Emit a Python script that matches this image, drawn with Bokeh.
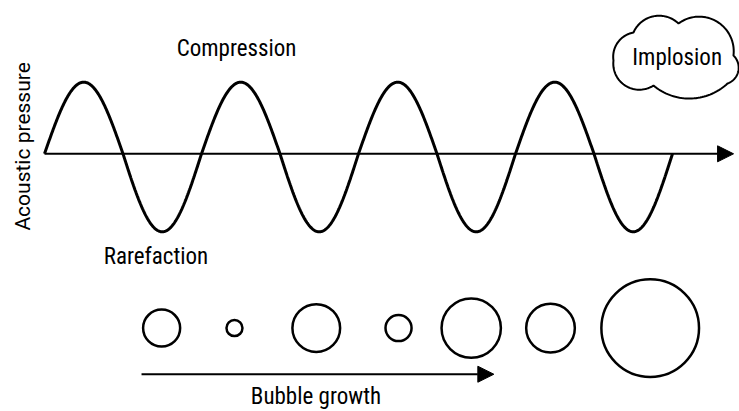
import numpy as np
from bokeh.plotting import figure
from bokeh.models import Range1d, Arrow, NormalHead, Label
from bokeh.embed import file_html
from bokeh.resources import INLINE

# ---------------- data (time in wave periods, pressure in amplitude units) ----------------
n_periods = 4
compression_peak = 0.955
rarefaction_trough = -1.04
pressure_axis_end = 4.389

bubble_time = [0.746, 1.210, 1.731, 2.255, 2.718, 3.223, 3.858]
bubble_radius = [0.118, 0.051, 0.152, 0.083, 0.189, 0.155, 0.311]
bubble_level = -2.324

growth_arrow_time = [0.618, 2.862]
growth_arrow_level = -2.939

label_text = ["Compression", "Rarefaction", "Bubble growth", "Implosion"]
label_time = [1.223, 0.710, 1.729, 4.030]
label_level = [1.404, -1.373, -3.236, 1.284]

ylabel_text = "Acoustic pressure"
ylabel_time = -0.137
ylabel_level = 0.099

# cloud outline around "Implosion": notch directions (px offsets) and lobe bulges (px)
cloud_center = (4.019, 1.297)
cloud_notch_dx = [-62, -42, 3, 58, 52, -22]
cloud_notch_dy = [4, -24, -33, -1, 27, 29]
cloud_lobe_bulge = [7, 12, 21, 8, 14, 15]

# ---------------- figure ----------------
x_start, x_end = -0.2803, 4.4268
y_start, y_end = -3.436, 2.044
W, H = 739, 411
px_per_t = W / (x_end - x_start)
px_per_p = H / (y_end - y_start)

p = figure(width=W, height=H, x_range=Range1d(x_start, x_end), y_range=Range1d(y_start, y_end),
           x_axis_location=None, y_axis_location=None, toolbar_location=None,
           output_backend="svg", min_border=0, outline_line_color=None,
           background_fill_color="white", border_fill_color="white")
p.grid.visible = False

# wave
t = np.linspace(0, n_periods, 1200)
s = np.sin(2 * np.pi * t)
wave = np.where(s > 0, s * compression_peak, s * (-rarefaction_trough))
p.line(t, wave, line_color="black", line_width=3)

# pressure axis arrow
p.add_layout(Arrow(x_start=0, y_start=0, x_end=pressure_axis_end, y_end=0,
                   line_color="black", line_width=2,
                   end=NormalHead(size=16, fill_color="black", line_color="black", line_width=1)))

# bubbles
p.circle(bubble_time, [bubble_level] * len(bubble_time), radius=bubble_radius,
         radius_dimension="x", fill_color=None, line_color="black", line_width=2.5)

# bubble growth arrow
p.add_layout(Arrow(x_start=growth_arrow_time[0], y_start=growth_arrow_level,
                   x_end=growth_arrow_time[1], y_end=growth_arrow_level,
                   line_color="black", line_width=2,
                   end=NormalHead(size=16, fill_color="black", line_color="black", line_width=1)))

# cloud
def cloud_outline():
    xs, ys = [], []
    n = len(cloud_notch_dx)
    for i in range(n):
        p0 = np.array([cloud_notch_dx[i], cloud_notch_dy[i]], float)
        p1 = np.array([cloud_notch_dx[(i + 1) % n], cloud_notch_dy[(i + 1) % n]], float)
        sag = cloud_lobe_bulge[i]
        m = (p0 + p1) / 2
        d = p1 - p0
        c = np.linalg.norm(d)
        nrm = np.array([d[1], -d[0]]) / c
        if np.dot(nrm, m) < 0:
            nrm = -nrm
        h = c / 2
        R = (h * h + sag * sag) / (2 * sag)
        O = m - nrm * (R - sag)
        theta = np.arctan2(h, R - sag)
        am = np.arctan2(nrm[1], nrm[0])
        phi = np.linspace(-theta, theta, 40)
        px = O[0] + R * np.cos(am + phi)
        py = O[1] + R * np.sin(am + phi)
        if np.hypot(px[0] - p0[0], py[0] - p0[1]) > np.hypot(px[-1] - p0[0], py[-1] - p0[1]):
            px, py = px[::-1], py[::-1]
        xs.extend(px)
        ys.extend(py)
    xs = cloud_center[0] + np.array(xs) / px_per_t
    ys = cloud_center[1] - np.array(ys) / px_per_p
    return xs, ys

cx, cy = cloud_outline()
p.patch(cx, cy, fill_color="white", line_color="black", line_width=2)

# labels
for txt, tx, ty in zip(label_text, label_time, label_level):
    p.add_layout(Label(x=tx, y=ty, text=txt, text_font="Roboto Condensed",
                       text_font_size="23px", text_color="black",
                       text_align="center", text_baseline="alphabetic"))

p.add_layout(Label(x=ylabel_time, y=ylabel_level, text=ylabel_text, text_font="Roboto",
                   text_font_size="21px", text_color="black", angle=np.pi / 2,
                   text_align="center", text_baseline="alphabetic"))

open("out.html", "w").write(file_html(p, INLINE))
